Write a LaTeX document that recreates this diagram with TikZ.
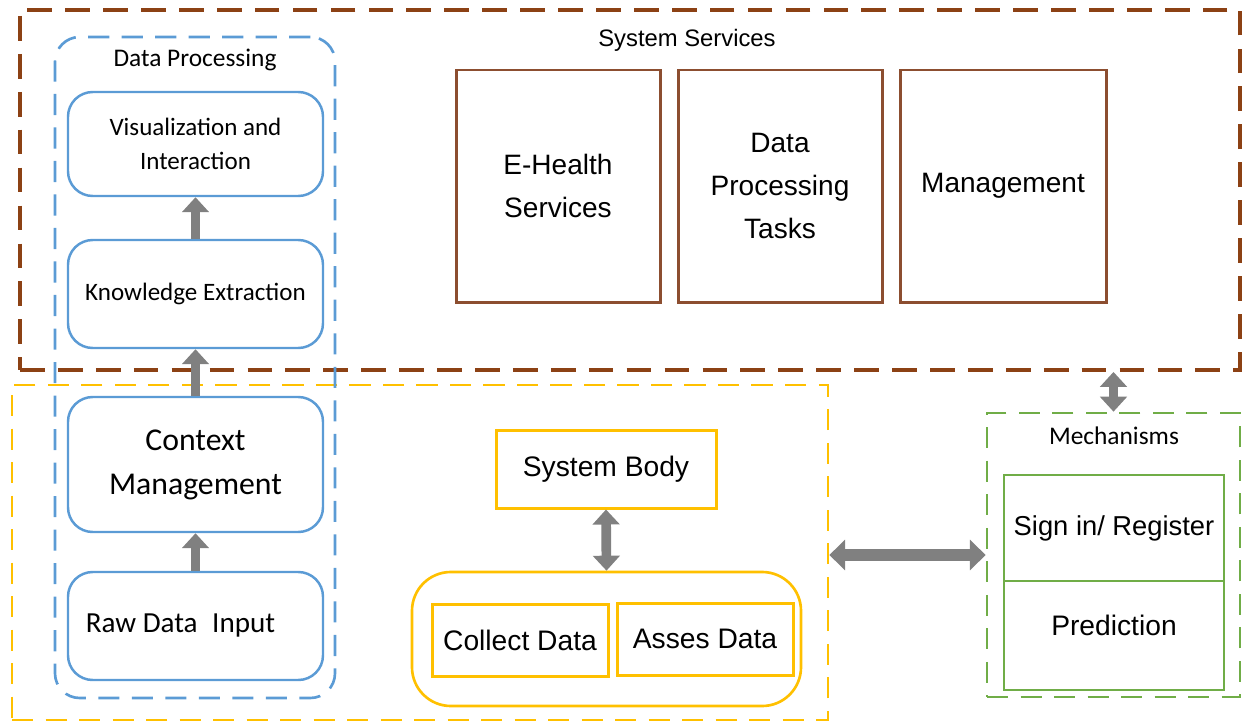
\documentclass[tikz,border=0pt]{standalone}
\usepackage{fontspec}
\setmainfont{Liberation Sans}
\newfontfamily\calfont{Carlito}
\usetikzlibrary{arrows.meta}
\definecolor{brownD}{RGB}{140,65,20}
\definecolor{brownS}{RGB}{140,78,48}
\definecolor{blueL}{RGB}{91,155,213}
\definecolor{yellowL}{RGB}{255,192,0}
\definecolor{greenL}{RGB}{112,173,71}
\definecolor{grayA}{RGB}{128,128,128}
\begin{document}
\begin{tikzpicture}[x=0.567pt,y=-0.567pt,
  sz/.style 2 args={minimum width=#1*0.567pt, minimum height=#2*0.567pt, inner sep=0pt},
  frame/.style={draw, dashed},
  bluebox/.style={draw=blueL, line width=1.4pt, rounded corners=14pt, font=\calfont\fontsize{14.2}{19.3}\selectfont, align=center},
  brownbox/.style={draw=brownS, line width=1.7pt, font=\fontsize{15.9}{24.4}\selectfont, align=center},
  ybox/.style={draw=yellowL, line width=1.7pt, font=\fontsize{16}{19}\selectfont},
  gbox/.style={draw=greenL, line width=1.2pt, font=\fontsize{16}{19}\selectfont},
  fat/.style={draw=grayA, line width=5.5pt, -{Triangle[width=15pt,length=8.5pt]}},
  fatboth/.style={draw=grayA, line width=5.5pt, {Triangle[width=15pt,length=8.5pt]}-{Triangle[width=15pt,length=8.5pt]}},
  fatwide/.style={draw=grayA, line width=6.5pt, {Triangle[width=17pt,length=9pt]}-{Triangle[width=17pt,length=9pt]}}
]
\useasboundingbox (0,0) rectangle (1243,723);

% outer frames
\node[frame, draw=brownD, line width=2.2pt, dash pattern=on 14pt off 7.5pt, sz={1220}{360}] (svc) at (630,190) {};
\node[frame, draw=yellowL, line width=1.5pt, dash pattern=on 12pt off 7pt, sz={816}{335}] (sys) at (420,552.5) {};
\node[frame, draw=greenL, line width=1.5pt, dash pattern=on 12pt off 7pt, sz={253}{284}] (mech) at (1113.5,555) {};
\node[frame, draw=blueL, line width=1.5pt, dash pattern=on 12pt off 7pt, rounded corners=14pt, sz={280}{661}] (dp) at (195,367.5) {};

% titles
\node[font=\fontsize{13.5}{16}\selectfont] (svcT) at (687,40) {System Services};
\node[font=\calfont\fontsize{14.4}{17}\selectfont] (dpT) at (195,60) {Data Processing};
\node[font=\calfont\fontsize{14.4}{17}\selectfont] (mechT) at (1114,436) {Mechanisms};

% data processing chain
\node[bluebox, sz={255}{104}] (vis) at (195.5,144) {Visualization and\\Interaction};
\node[bluebox, sz={255}{108}] (know) at (195.5,294) {Knowledge Extraction};
\node[bluebox, font=\calfont\fontsize{18}{25}\selectfont, sz={255}{135}] (ctx) at (195.5,464.5) {Context\\Management};
\node[bluebox, font=\calfont\fontsize{16.5}{20}\selectfont, sz={255}{108}] (raw) at (195.5,626) {Raw Data\enspace Input\hspace*{17pt}};

\draw[fat] (raw.north) -- (ctx.south);
\draw[fat] (ctx.north) -- (know.south);
\draw[fat] (know.north) -- (vis.south);

% system services boxes
\node[brownbox, sz={204}{232}] (eh) at (558,186) {E-Health\\Services};
\node[brownbox, sz={204}{232}] (dpt) at (780,186) {Data\\Processing\\Tasks};
\node[brownbox, sz={206}{232}] (mgmt) at (1003,186) {Management};

% system body
\node[ybox, sz={220}{78}] (body) at (606,469) {System Body};
\node[draw=yellowL, line width=1.5pt, rounded corners=22pt, sz={389}{134}] (grp) at (606.5,639) {};
\node[ybox, sz={176}{72}] (col) at (520,640) {Collect Data};
\node[ybox, sz={176}{72}] (ass) at (705,639) {Asses Data};
\draw[fatboth] (body.south) -- (grp.north);

% mechanisms
\node[gbox, font=\fontsize{15.5}{19}\selectfont, sz={220}{106}] (sign) at (1114,528) {Sign in/ Register};
\node[gbox, sz={220}{109}] (pred) at (1114,635.5) {Prediction\rule[-12pt]{0pt}{12pt}};

\draw[fatboth] (mech.north) -- (mech.north |- svc.south);
\draw[fatwide] (mech.west -| sys.east) -- (mech.west);
\end{tikzpicture}
\end{document}
